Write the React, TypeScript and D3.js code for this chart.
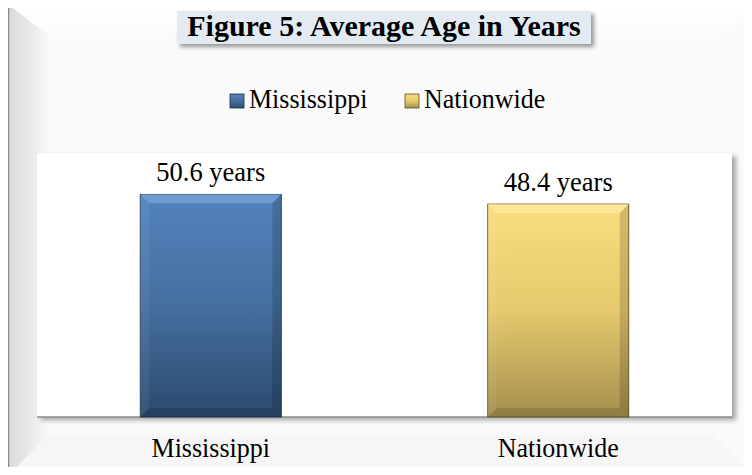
import React from "react";
import { scaleBand, scaleLinear } from "d3";

const categories = ["Mississippi", "Nationwide"];
const values = [50.6, 48.4];
const valueLabels = ["50.6 years", "48.4 years"];
const legendNames = ["Mississippi", "Nationwide"];
const title = "Figure 5: Average Age in Years";

const W = 752;
const H = 475;
const font = "'Liberation Serif', 'Times New Roman', serif";

const plot = { left: 37, right: 732, top: 153, bottom: 417 };

// text slightly taller than wide, as in the source image
const Label: React.FC<{ x: number; y: number; size: number; anchor?: string; children: React.ReactNode }> = ({
  x,
  y,
  size,
  anchor = "start",
  children,
}) => (
  <text
    transform={`translate(${x},${y}) scale(1,1.07)`}
    textAnchor={anchor as any}
    fontFamily={font}
    fontSize={size}
    fill="#000"
  >
    {children}
  </text>
);

const App: React.FC = () => {
  const x = scaleBand<string>()
    .domain(categories)
    .range([plot.left, plot.right])
    .paddingInner(0.594)
    .paddingOuter(0.297);
  const y = scaleLinear().domain([0, 60]).range([plot.bottom, plot.top]);

  const grads = [
    { id: "gBlue", top: "#5283bd", mid: "#456f9f", bot: "#2b4a6e", edge: "#1c2f48", light: "#86aee0" },
    { id: "gGold", top: "#fadd7c", mid: "#e6c96e", bot: "#a38f4d", edge: "#5a4b20", light: "#fff0b0" },
  ];

  const legendX = [230, 405];

  return (
    <div style={{ margin: -8, width: W, height: H, overflow: "hidden" }}>
      <svg width={W} height={H} style={{ display: "block" }}>
        <defs>
          {grads.map((g) => (
            <linearGradient key={g.id} id={g.id} x1="0" y1="0" x2="0" y2="1">
              <stop offset="0" stopColor={g.top} />
              <stop offset="0.5" stopColor={g.mid} />
              <stop offset="1" stopColor={g.bot} />
            </linearGradient>
          ))}
          <linearGradient id="bevelL" x1="0" y1="0" x2="1" y2="0">
            <stop offset="0" stopColor="#dadada" />
            <stop offset="1" stopColor="#f7f7f7" />
          </linearGradient>
          <linearGradient id="bevelT" x1="0" y1="0" x2="0" y2="1">
            <stop offset="0" stopColor="#ffffff" />
            <stop offset="1" stopColor="#fbfbfb" />
          </linearGradient>
          <filter id="shadow" x="-5%" y="-5%" width="115%" height="120%">
            <feDropShadow dx="4" dy="3" stdDeviation="2.5" floodColor="#000" floodOpacity="0.35" />
          </filter>
          <filter id="tshadow" x="-5%" y="-20%" width="115%" height="160%">
            <feDropShadow dx="3" dy="3" stdDeviation="2" floodColor="#000" floodOpacity="0.4" />
          </filter>
        </defs>

        {/* frame */}
        <rect x={0} y={0} width={W} height={H} fill="#ffffff" />
        <rect x={8} y={4} width={W} height={H} fill="#fafafa" />
        <polygon points={`9,5 ${W},5 ${W - 30},35 48,35`} fill="url(#bevelT)" />
        <polygon points={`9,5 48,35 48,${H - 40} 9,${H}`} fill="url(#bevelL)" />
        <polygon points={`9,${H} 48,${H - 40} ${W - 40},${H - 40} ${W},${H}`} fill="#f6f6f6" />
        <line x1={8} y1={4} x2={W} y2={4} stroke="#8a8a8a" strokeWidth={2.5} />
        <line x1={8} y1={4} x2={8} y2={H} stroke="#8a8a8a" strokeWidth={2.5} />

        {/* title */}
        <rect x={177} y={11} width={414} height={33} fill="#e4eaf2" filter="url(#tshadow)" />
        <text x={384} y={36} textAnchor="middle" fontFamily={font} fontWeight="bold" fontSize={30} fill="#000">
          {title}
        </text>

        {/* legend */}
        {legendNames.map((name, i) => (
          <g key={name}>
            <rect x={legendX[i]} y={94} width={14} height={14} fill={`url(#${grads[i].id})`} stroke={grads[i].edge} strokeWidth={0.8} />
            <Label x={legendX[i] + 19} y={108} size={26}>
              {name}
            </Label>
          </g>
        ))}

        {/* plot area */}
        <rect
          x={plot.left}
          y={plot.top}
          width={plot.right - plot.left}
          height={plot.bottom - plot.top}
          fill="#ffffff"
          filter="url(#shadow)"
        />
        <line x1={plot.left} x2={plot.right} y1={plot.bottom} y2={plot.bottom} stroke="#8c8c8c" strokeWidth={1.5} />

        {/* bars */}
        {categories.map((c, i) => {
          const bx = x(c)!;
          const bw = x.bandwidth();
          const by = y(values[i]);
          const bh = y(0) - by;
          const g = grads[i];
          const b = 9;
          return (
            <g key={c}>
              <rect x={bx} y={by} width={bw} height={bh} fill={`url(#${g.id})`} stroke={g.edge} strokeWidth={0.8} />
              <polygon points={`${bx},${by} ${bx + bw},${by} ${bx + bw - b},${by + b} ${bx + b},${by + b}`} fill={g.light} opacity={0.55} />
              <polygon points={`${bx},${by} ${bx + b},${by + b} ${bx + b},${by + bh - b} ${bx},${by + bh}`} fill="#ffffff" opacity={0.06} />
              <polygon points={`${bx + bw},${by} ${bx + bw},${by + bh} ${bx + bw - b},${by + bh - b} ${bx + bw - b},${by + b}`} fill="#000" opacity={0.15} />
              <polygon points={`${bx},${by + bh} ${bx + b},${by + bh - b} ${bx + bw - b},${by + bh - b} ${bx + bw},${by + bh}`} fill="#000" opacity={0.12} />
              <Label x={bx + bw / 2} y={by - 13} size={26.5} anchor="middle">
                {valueLabels[i]}
              </Label>
              <Label x={bx + bw / 2} y={457} size={26} anchor="middle">
                {c}
              </Label>
            </g>
          );
        })}
      </svg>
    </div>
  );
};

export default App;
